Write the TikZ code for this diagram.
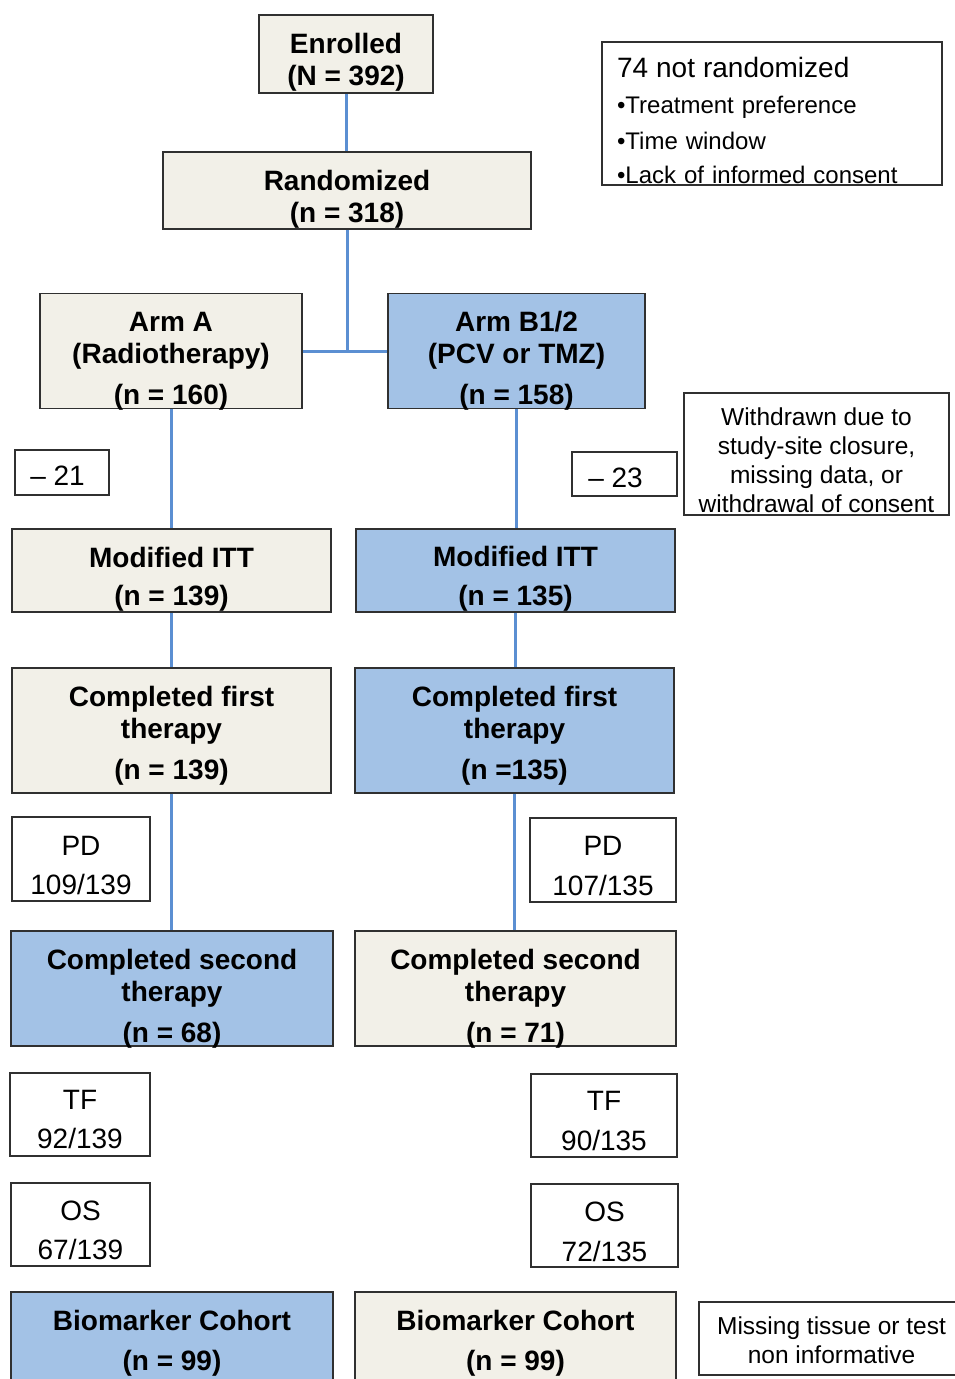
\documentclass[tikz,border=0pt]{standalone}
\usepackage{fontspec}
\setmainfont{Liberation Sans}
\definecolor{beige}{HTML}{F2F0E8}
\definecolor{armblue}{HTML}{A3C2E6}
\definecolor{lineblue}{HTML}{5B8FD2}
\definecolor{edge}{HTML}{303030}
\tikzset{
  boxbase/.style={draw=edge, line width=1.5pt, inner sep=0pt, rectangle},
  beigebox/.style={boxbase, fill=beige},
  bluebox/.style={boxbase, fill=armblue},
  whitebox/.style={boxbase, fill=white},
  txtb/.style={font=\fontsize{28}{32}\selectfont\bfseries, align=center, inner sep=0pt},
  txtr/.style={font=\fontsize{28}{39}\selectfont, align=center, inner sep=0pt},
  txts/.style={font=\fontsize{24.5}{29}\selectfont, align=center, inner sep=0pt},
  link/.style={draw=lineblue, line width=3pt},
}
\begin{document}
\begin{tikzpicture}[x=1pt, y=-1pt]
\useasboundingbox[fill=white] (0,0) rectangle (954,1379);

% top
\node[beigebox, minimum width=174pt, minimum height=78pt,
  label={[txtb, yshift=-8pt]center:{Enrolled\\(N = 392)}}] (enr) at (346,54) {};
\node[whitebox, minimum width=340pt, minimum height=143pt,
  label={[font=\fontsize{24}{36}\selectfont, text width=310pt, align=left, inner sep=0pt, yshift=-7pt]center:{{\fontsize{28}{36}\selectfont 74 not randomized}\\•Treatment preference\\•Time window\\[-2pt]•Lack of informed consent}}] (notrand) at (772,113.5) {};
\node[beigebox, minimum width=368pt, minimum height=77pt,
  label={[txtb, yshift=-8.5pt]center:{Randomized\\(n = 318)}}] (rand) at (347,190.5) {};

% arms
\node[beigebox, minimum width=262pt, minimum height=115pt,
  label={[txtb, yshift=-10pt]center:{Arm A\\(Radiotherapy)\\[9pt](n = 160)}}] (armA) at (171,351) {};
\node[bluebox, minimum width=257pt, minimum height=115pt,
  label={[txtb, yshift=-10pt]center:{Arm B1/2\\(PCV or TMZ)\\[9pt](n = 158)}}] (armB) at (516.5,351) {};

% exclusions
\node[whitebox, minimum width=94pt, minimum height=45pt,
  label={[txtr, xshift=-4.5pt, yshift=-3.5pt]center:{– 21}}] (minA) at (62,472.5) {};
\node[whitebox, minimum width=105pt, minimum height=44pt,
  label={[txtr, xshift=-9pt, yshift=-4pt]center:{– 23}}] (minB) at (624.5,474) {};
\node[whitebox, minimum width=265pt, minimum height=122pt,
  label={[txts, yshift=-6.5pt]center:{Withdrawn due to\\study-site closure,\\missing data, or\\withdrawal of consent}}] (withd) at (816.5,454) {};

% modified ITT
\node[beigebox, minimum width=319pt, minimum height=83pt,
  label={[txtb, font=\fontsize{28}{38}\selectfont\bfseries, yshift=-8.5pt]center:{Modified ITT\\(n = 139)}}] (mittA) at (171.5,570.5) {};
\node[bluebox, minimum width=319pt, minimum height=83pt,
  label={[txtb, font=\fontsize{28}{39}\selectfont\bfseries, yshift=-8pt]center:{Modified ITT\\(n = 135)}}] (mittB) at (515.5,570.5) {};

% completed first
\node[beigebox, minimum width=319pt, minimum height=125pt,
  label={[txtb, yshift=-5pt]center:{Completed first\\therapy\\[9pt](n = 139)}}] (cfA) at (171.5,730.5) {};
\node[bluebox, minimum width=319pt, minimum height=125pt,
  label={[txtb, yshift=-5pt]center:{Completed first\\therapy\\[9pt](n =135)}}] (cfB) at (514.5,730.5) {};

% PD
\node[whitebox, minimum width=138pt, minimum height=84pt,
  label={[txtr, yshift=-6pt]center:{PD\\109/139}}] (pdA) at (81,859) {};
\node[whitebox, minimum width=146pt, minimum height=84pt,
  label={[txtr, font=\fontsize{28}{40}\selectfont, yshift=-6pt]center:{PD\\107/135}}] (pdB) at (603,860) {};

% completed second
\node[bluebox, minimum width=322pt, minimum height=115pt,
  label={[txtb, yshift=-10pt]center:{Completed second\\therapy\\[9pt](n = 68)}}] (csA) at (172,988.5) {};
\node[beigebox, minimum width=321pt, minimum height=115pt,
  label={[txtb, yshift=-10pt]center:{Completed second\\therapy\\[9pt](n = 71)}}] (csB) at (515.5,988.5) {};

% TF
\node[whitebox, minimum width=140pt, minimum height=83pt,
  label={[txtr, yshift=-5pt]center:{TF\\92/139}}] (tfA) at (80,1114.5) {};
\node[whitebox, minimum width=146pt, minimum height=83pt,
  label={[txtr, font=\fontsize{28}{40}\selectfont, yshift=-5pt]center:{TF\\90/135}}] (tfB) at (604,1115.5) {};

% OS
\node[whitebox, minimum width=139pt, minimum height=83pt,
  label={[txtr, yshift=-5.5pt]center:{OS\\67/139}}] (osA) at (80.5,1224.5) {};
\node[whitebox, minimum width=147pt, minimum height=83pt,
  label={[txtr, font=\fontsize{28}{40}\selectfont, yshift=-6pt]center:{OS\\72/135}}] (osB) at (604.5,1225.5) {};

% biomarker
\node[bluebox, minimum width=322pt, minimum height=108pt,
  label={[txtb, font=\fontsize{28}{40}\selectfont\bfseries, yshift=3pt]center:{Biomarker Cohort\\(n = 99)}}] (bmA) at (172,1346) {};
\node[beigebox, minimum width=321pt, minimum height=108pt,
  label={[txtb, font=\fontsize{28}{40}\selectfont\bfseries, yshift=3pt]center:{Biomarker Cohort\\(n = 99)}}] (bmB) at (515.5,1346) {};
\node[whitebox, minimum width=271pt, minimum height=73pt,
  label={[txts, xshift=-3pt, yshift=-1.5pt]center:{Missing tissue or test\\non informative}}] (miss) at (834.5,1338.5) {};

% connectors
\draw[link] (enr.south) -- (enr.south |- rand.north);
\draw[link] (rand.south) -- (rand.south |- armA.east);
\draw[link] (armA.east) -- (armB.west);
\draw[link] (armA.south) -- (armA.south |- mittA.north);
\draw[link] (armB.south) -- (armB.south |- mittB.north);
\draw[link] (mittA.south) -- (mittA.south |- cfA.north);
\draw[link] (mittB.south) -- (mittB.south |- cfB.north);
\draw[link] (cfA.south) -- (cfA.south |- csA.north);
\draw[link] (cfB.south) -- (cfB.south |- csB.north);
\end{tikzpicture}
\end{document}
